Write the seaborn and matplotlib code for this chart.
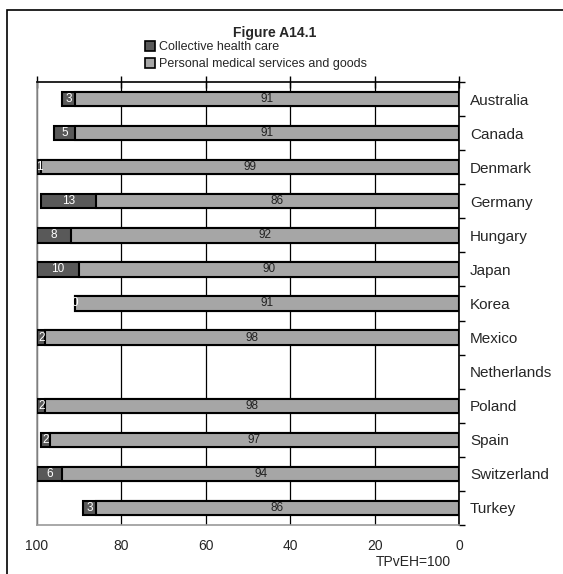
import numpy as np
import pandas as pd
import matplotlib
matplotlib.use('Agg')
import matplotlib.pyplot as plt
import seaborn as sns
from matplotlib.patches import Patch, Rectangle
from matplotlib.ticker import FixedLocator

# Data (share of TPvEH, %)
countries = ['Australia', 'Canada', 'Denmark', 'Germany', 'Hungary', 'Japan', 'Korea',
             'Mexico', 'Netherlands', 'Poland', 'Spain', 'Switzerland', 'Turkey']
collective = [3, 5, 1, 13, 8, 10, 0, 2, np.nan, 2, 2, 6, 3]
personal = [91, 91, 99, 86, 92, 90, 91, 98, np.nan, 98, 97, 94, 86]

dark = '#595959'
light = '#a6a6a6'

df = pd.DataFrame({'country': countries, 'collective': collective, 'personal': personal})
df['total'] = df['collective'] + df['personal']

sns.set_style('white')
plt.rcParams['font.family'] = ['Liberation Sans', 'DejaVu Sans']

fig = plt.figure(figsize=(5.63, 5.74), dpi=100)
ax = fig.add_axes([37 / 563, 49 / 574, 422 / 563, 443 / 574])

# stacked: draw total in dark, then personal on top in light
sns.barplot(data=df, y='country', x='total', order=countries, orient='h', color=dark,
            edgecolor='black', linewidth=1.5, width=0.42, saturation=1, ax=ax, zorder=3)
sns.barplot(data=df, y='country', x='personal', order=countries, orient='h', color=light,
            edgecolor='black', linewidth=1.5, width=0.42, saturation=1, ax=ax, zorder=4)

# value labels
for i, row in df.iterrows():
    if np.isnan(row['personal']):
        continue
    ax.text(row['personal'] / 2, i, f"{row['personal']:.0f}", ha='center', va='center',
            fontsize=8.5, color='#222222', zorder=6)
    ax.text(row['personal'] + row['collective'] / 2, i, f"{row['collective']:.0f}",
            ha='center', va='center', fontsize=8.5, color='white', zorder=6)

ax.set_xlim(100, 0)
ax.set_ylim(len(countries) - 0.5, -0.5)
ax.set_xticks([100, 80, 60, 40, 20, 0])
ax.set_xticklabels(['100', '80', '60', '40', '20', '0'])
ax.tick_params(axis='x', bottom=False, top=True, direction='inout', length=8,
               width=1, color='black', pad=6, labelsize=10, labelbottom=True, labeltop=False)
ax.grid(axis='x', color='black', linewidth=0.9, zorder=0)
ax.set_axisbelow(True)
ax.set_xlabel('')
ax.set_ylabel('')

ax.yaxis.tick_right()
ax.tick_params(axis='y', which='major', length=0, pad=8, labelsize=11)
ax.yaxis.set_minor_locator(FixedLocator(np.arange(-0.5, len(countries), 1)))
ax.tick_params(axis='y', which='minor', right=True, left=False, direction='out',
               length=4, width=1, color='black')

for side in ['left', 'bottom']:
    ax.spines[side].set_color('#999999')
    ax.spines[side].set_linewidth(1.2)
for side in ['top', 'right']:
    ax.spines[side].set_color('black')
    ax.spines[side].set_linewidth(1.2)

fig.text(275 / 563, 1 - 33 / 574, 'Figure A14.1', ha='center', va='center',
         fontsize=10, fontweight='bold')
fig.text(413 / 563, 1 - 562 / 574, 'TPvEH=100', ha='center', va='center', fontsize=10)

handles = [Patch(facecolor=dark, edgecolor='black', linewidth=1.2, label='Collective health care'),
           Patch(facecolor=light, edgecolor='black', linewidth=1.2,
                 label='Personal medical services and goods')]
fig.legend(handles=handles, loc='upper left', bbox_to_anchor=(145 / 563, 1 - 41 / 574),
           frameon=False, fontsize=9, handlelength=0.8, handleheight=0.8,
           handletextpad=0.3, labelspacing=0.4, borderpad=0, borderaxespad=0)

# outer frame
fig.patches.append(Rectangle((7 / 563, -0.1), 1.2, 1 - 10 / 574 + 0.1, transform=fig.transFigure,
                             fill=False, edgecolor='black', linewidth=1.2))

fig.savefig('out.png', dpi=100)
